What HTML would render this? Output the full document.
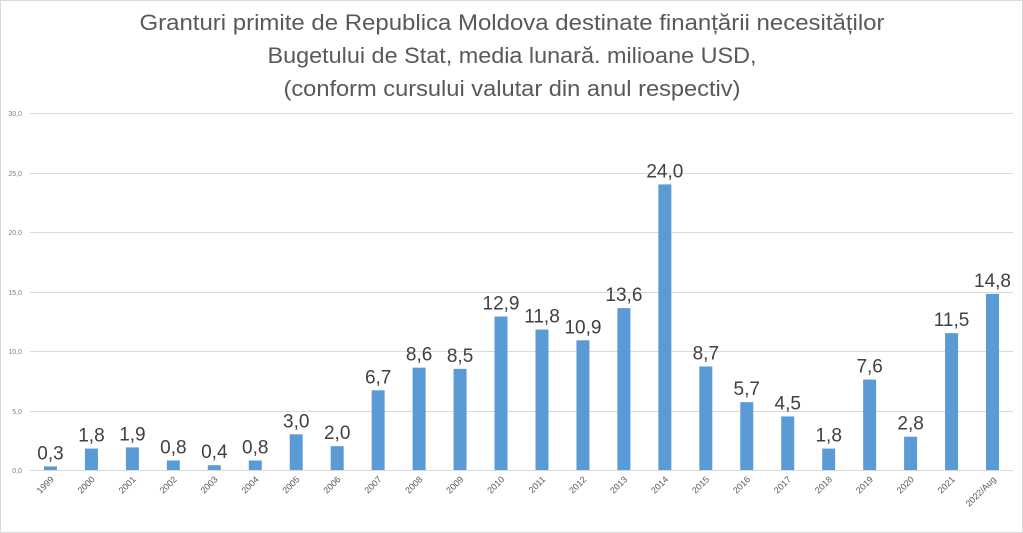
<!DOCTYPE html>
<html><head><meta charset="utf-8"><style>
html,body{margin:0;padding:0;background:#fff}
svg{display:block;font-family:"Liberation Sans",sans-serif}
</style></head><body>
<svg width="1023" height="533" viewBox="0 0 1023 533" xmlns="http://www.w3.org/2000/svg">
<rect x="0.5" y="0.5" width="1022" height="532" fill="#fff" stroke="#d9d9d9"/>
<g fill="#595959" font-size="22" text-anchor="middle">
<text x="512" y="30" textLength="745" lengthAdjust="spacingAndGlyphs">Granturi primite de Republica Moldova destinate finanțării necesităților</text>
<text x="512" y="63" textLength="489" lengthAdjust="spacingAndGlyphs">Bugetului de Stat, media lunară. milioane USD,</text>
<text x="512" y="96" textLength="457" lengthAdjust="spacingAndGlyphs">(conform cursului valutar din anul respectiv)</text>
</g>
<g stroke="#d9d9d9" stroke-width="1">
<line x1="30" y1="113.5" x2="1013" y2="113.5"/>
<line x1="30" y1="173.5" x2="1013" y2="173.5"/>
<line x1="30" y1="232.5" x2="1013" y2="232.5"/>
<line x1="30" y1="292.5" x2="1013" y2="292.5"/>
<line x1="30" y1="351.5" x2="1013" y2="351.5"/>
<line x1="30" y1="411.5" x2="1013" y2="411.5"/>
<line x1="30" y1="470.5" x2="1013" y2="470.5"/>
</g>
<g fill="#7f7f7f" font-size="7" text-anchor="end">
<text x="22" y="116">30,0</text><text x="22" y="176">25,0</text><text x="22" y="235">20,0</text>
<text x="22" y="295">15,0</text><text x="22" y="354">10,0</text><text x="22" y="414">5,0</text><text x="22" y="473">0,0</text>
</g>
<g fill="#5b9bd5">
<rect x="43.98" y="466.43" width="13" height="3.57"/>
<rect x="84.94" y="448.58" width="13" height="21.42"/>
<rect x="125.9" y="447.39" width="13" height="22.61"/>
<rect x="166.85" y="460.48" width="13" height="9.52"/>
<rect x="207.81" y="465.24" width="13" height="4.76"/>
<rect x="248.77" y="460.48" width="13" height="9.52"/>
<rect x="289.73" y="434.3" width="13" height="35.7"/>
<rect x="330.69" y="446.2" width="13" height="23.8"/>
<rect x="371.65" y="390.27" width="13" height="79.73"/>
<rect x="412.6" y="367.66" width="13" height="102.34"/>
<rect x="453.56" y="368.85" width="13" height="101.15"/>
<rect x="494.52" y="316.49" width="13" height="153.51"/>
<rect x="535.48" y="329.58" width="13" height="140.42"/>
<rect x="576.44" y="340.29" width="13" height="129.71"/>
<rect x="617.4" y="308.16" width="13" height="161.84"/>
<rect x="658.35" y="184.4" width="13" height="285.6"/>
<rect x="699.31" y="366.47" width="13" height="103.53"/>
<rect x="740.27" y="402.17" width="13" height="67.83"/>
<rect x="781.23" y="416.45" width="13" height="53.55"/>
<rect x="822.19" y="448.58" width="13" height="21.42"/>
<rect x="863.15" y="379.56" width="13" height="90.44"/>
<rect x="904.1" y="436.68" width="13" height="33.32"/>
<rect x="945.06" y="333.15" width="13" height="136.85"/>
<rect x="986.02" y="293.88" width="13" height="176.12"/>
</g>
<g fill="#404040" font-size="19" text-anchor="middle">
<text x="50.48" y="459.4">0,3</text>
<text x="91.44" y="441.6">1,8</text>
<text x="132.4" y="440.4">1,9</text>
<text x="173.35" y="453.5">0,8</text>
<text x="214.31" y="458.2">0,4</text>
<text x="255.27" y="453.5">0,8</text>
<text x="296.23" y="427.3">3,0</text>
<text x="337.19" y="439.2">2,0</text>
<text x="378.15" y="383.3">6,7</text>
<text x="419.1" y="360.7">8,6</text>
<text x="460.06" y="361.9">8,5</text>
<text x="501.02" y="309.5">12,9</text>
<text x="541.98" y="322.6">11,8</text>
<text x="582.94" y="333.3">10,9</text>
<text x="623.9" y="301.2">13,6</text>
<text x="664.85" y="177.4">24,0</text>
<text x="705.81" y="359.5">8,7</text>
<text x="746.77" y="395.2">5,7</text>
<text x="787.73" y="409.5">4,5</text>
<text x="828.69" y="441.6">1,8</text>
<text x="869.65" y="372.6">7,6</text>
<text x="910.6" y="429.7">2,8</text>
<text x="951.56" y="326.2">11,5</text>
<text x="992.52" y="286.9">14,8</text>
</g>
<g fill="#595959" font-size="9" text-anchor="end">
<text transform="translate(54.5,480) rotate(-45)">1999</text>
<text transform="translate(95.4,480) rotate(-45)">2000</text>
<text transform="translate(136.4,480) rotate(-45)">2001</text>
<text transform="translate(177.4,480) rotate(-45)">2002</text>
<text transform="translate(218.3,480) rotate(-45)">2003</text>
<text transform="translate(259.3,480) rotate(-45)">2004</text>
<text transform="translate(300.2,480) rotate(-45)">2005</text>
<text transform="translate(341.2,480) rotate(-45)">2006</text>
<text transform="translate(382.2,480) rotate(-45)">2007</text>
<text transform="translate(423.1,480) rotate(-45)">2008</text>
<text transform="translate(464.1,480) rotate(-45)">2009</text>
<text transform="translate(505,480) rotate(-45)">2010</text>
<text transform="translate(546,480) rotate(-45)">2011</text>
<text transform="translate(586.9,480) rotate(-45)">2012</text>
<text transform="translate(627.9,480) rotate(-45)">2013</text>
<text transform="translate(668.9,480) rotate(-45)">2014</text>
<text transform="translate(709.8,480) rotate(-45)">2015</text>
<text transform="translate(750.8,480) rotate(-45)">2016</text>
<text transform="translate(791.7,480) rotate(-45)">2017</text>
<text transform="translate(832.7,480) rotate(-45)">2018</text>
<text transform="translate(873.7,480) rotate(-45)">2019</text>
<text transform="translate(914.6,480) rotate(-45)">2020</text>
<text transform="translate(955.6,480) rotate(-45)">2021</text>
<text transform="translate(996.5,480) rotate(-45)">2022/Aug</text>
</g>
</svg>
</body></html>
